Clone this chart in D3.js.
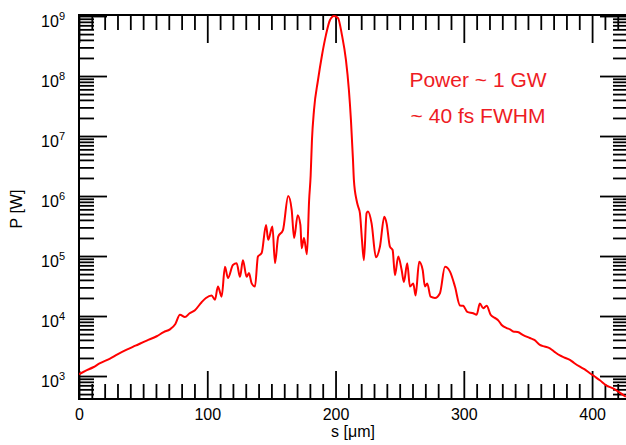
<!DOCTYPE html>
<html><head><meta charset="utf-8">
<script src="https://cdn.jsdelivr.net/npm/d3@7"></script>
<style>
html,body{margin:0;padding:0;background:#fff;}
text{font-family:"Liberation Sans",Arial,sans-serif;}
</style></head>
<body><svg id="c" width="626" height="445"></svg>
<script>
// s in micrometres
const sValues = [0,5,11.1,16,24.2,30,37.2,44,52.8,60.6,66,70.9,75,78.7,82.6,86,90.4,95.6,99.0,103.4,106.0,108.3,111.2,113.8,116.1,120.0,122.9,125.5,127.8,130.7,132.5,134.6,137.2,139.5,142.4,145.8,147.5,150.8,152.8,155.3,159.0,163.1,165.8,167.7,170.5,172.6,173.6,175.4,177.7,179.4,180.6,181.6,183.2,186.3,189.4,192.5,195.6,198.8,201.9,205.0,208.1,210.4,212.0,213.6,214.3,216.4,217.5,219.0,220.6,222.1,224.2,225.3,228.1,231.5,234.6,238.0,239.8,242.4,244.5,246.3,248.9,251.5,253.3,255.9,258.0,260.6,262.4,265.2,267.9,269.7,271.5,274.1,277.5,281.4,285.3,289.2,293.1,297.0,299.5,302.7,307.3,310.0,312.5,315.1,317.8,320.9,324.2,327,329.5,333.4,336,338.5,342,346.3,351.5,355,359.3,363,367.1,371,374.9,378,382.7,386,390.5,394,398.3,402,406.1,411,416.4,421,426.3];
// power in W
const powerValues = [1.07e3,1.22e3,1.4e3,1.62e3,1.95e3,2.3e3,2.75e3,3.2e3,3.9e3,4.6e3,5.4e3,6.0e3,7.3e3,1.05e4,9.6e3,1.1e4,1.25e4,1.7e4,2.0e4,2.2e4,1.86e4,3.1e4,2.1e4,6.6e4,4.3e4,7.1e4,7.6e4,4.5e4,8.5e4,4.5e4,5.2e4,3.5e4,3.1e4,9.8e4,1.12e5,3.3e5,1.86e5,3.1e5,7.6e4,2.1e5,2.7e5,1.0e6,5.9e5,2.0e5,4.8e5,3.3e5,1.35e5,2.0e5,1.07e5,8.5e5,2.2e6,8.5e6,2.7e7,8.5e7,2.2e8,4.8e8,8.5e8,1.0e9,9.3e8,4.8e8,1.86e8,5.9e7,1.86e7,4.0e6,1.86e6,8.5e5,6.8e5,5.2e5,1.86e5,8.5e4,5.2e5,5.5e5,3.5e5,9.5e4,1.43e5,4.5e5,3.5e5,1.43e5,1.26e5,4.8e4,9.8e4,5.9e4,3.7e4,7.6e4,3.1e4,3.5e4,2.2e4,8.0e4,5.9e4,3.1e4,3.5e4,2.1e4,2.0e4,2.4e4,6.6e4,5.5e4,3.1e4,1.5e4,1.48e4,1.17e4,1.11e4,1.05e4,1.62e4,1.35e4,1.48e4,1.05e4,9.3e3,8.4e3,7.1e3,6.3e3,6.0e3,5.5e3,5.4e3,4.8e3,4.3e3,4.0e3,3.3e3,3.1e3,2.9e3,2.5e3,2.2e3,2.05e3,1.86e3,1.65e3,1.43e3,1.3e3,1.11e3,9.8e2,8.5e2,7.0e2,6.2e2,5.4e2,4.5e2];
const xMajorTicks = [0,100,200,300,400];
const yMajorExponents = [3,4,5,6,7,8,9];
const xLabel = "s [\u03bcm]";
const yLabel = "P [W]";
const notes = ["Power ~ 1 GW", "~ 40 fs FWHM"];

const svg = d3.select("#c");
const L = 79, R = 628, T = 15, B = 399;
const x = d3.scaleLinear().domain([0, 428]).range([L, R]);
const y = d3.scaleLog().domain([Math.pow(10, 2.617), Math.pow(10, 9.017)]).range([B, T]);

const xMinor = d3.range(0, 430, 10).filter(v => v % 100 !== 0);
const yMajor = yMajorExponents.map(e => Math.pow(10, e));
const yMinor = [];
for (let e = 2; e <= 9; e++) for (let m = 2; m <= 9; m++) {
  const v = m * Math.pow(10, e);
  if (v >= y.domain()[0] && v <= y.domain()[1]) yMinor.push(v);
}

svg.append("defs").append("clipPath").attr("id", "clip")
  .append("rect").attr("x", L).attr("y", T).attr("width", R - L).attr("height", B - T);

function styleAxis(g) {
  g.select(".domain").remove();
  g.selectAll(".tick line").attr("stroke", "#000").attr("stroke-width", 1.8);
}
const MAJ = 28, MIN = 15;
// bottom
svg.append("g").attr("transform", `translate(0,${B})`)
  .call(d3.axisBottom(x).tickValues(xMinor).tickSize(-MIN).tickFormat("")).call(styleAxis);
svg.append("g").attr("transform", `translate(0,${B})`)
  .call(d3.axisBottom(x).tickValues(xMajorTicks).tickSize(-MAJ).tickFormat(d3.format("d")))
  .call(styleAxis)
  .call(g => g.selectAll(".tick text").attr("font-size", 16).attr("fill", "#000").attr("dy", "0").attr("y", 21));
// top
svg.append("g").attr("transform", `translate(0,${T})`)
  .call(d3.axisTop(x).tickValues(xMinor).tickSize(-MIN).tickFormat("")).call(styleAxis);
svg.append("g").attr("transform", `translate(0,${T})`)
  .call(d3.axisTop(x).tickValues(xMajorTicks).tickSize(-MAJ).tickFormat("")).call(styleAxis);
// left
svg.append("g").attr("transform", `translate(${L},0)`)
  .call(d3.axisLeft(y).tickValues(yMinor).tickSize(-MIN).tickFormat("")).call(styleAxis);
const ly = svg.append("g").attr("transform", `translate(${L},0)`)
  .call(d3.axisLeft(y).tickValues(yMajor).tickSize(-MAJ).tickFormat("")).call(styleAxis);
ly.selectAll(".tick").each(function(d) {
  const t = d3.select(this).append("text").attr("x", -14).attr("y", 10)
    .attr("text-anchor", "end").attr("fill", "#000").attr("font-size", 16);
  t.append("tspan").text("10");
  t.append("tspan").attr("font-size", 11).attr("dy", -7).text(Math.round(Math.log10(d)));
});
// right
svg.append("g").attr("transform", `translate(${R},0)`)
  .call(d3.axisRight(y).tickValues(yMinor).tickSize(-MIN).tickFormat("")).call(styleAxis);
svg.append("g").attr("transform", `translate(${R},0)`)
  .call(d3.axisRight(y).tickValues(yMajor).tickSize(-MAJ).tickFormat("")).call(styleAxis);

// frame
svg.append("rect").attr("x", L).attr("y", T).attr("width", R - L).attr("height", B - T)
  .attr("fill", "none").attr("stroke", "#000").attr("stroke-width", 2);

// curve
const data = sValues.map((s, i) => [s, powerValues[i]]);
svg.append("path").datum(data).attr("clip-path", "url(#clip)")
  .attr("fill", "none").attr("stroke", "#f00").attr("stroke-width", 2)
  .attr("stroke-linejoin", "round")
  .attr("d", d3.line().x(d => x(d[0])).y(d => y(d[1])).curve(d3.curveMonotoneX));

// labels
svg.append("text").attr("x", 353).attr("y", 437).attr("text-anchor", "middle")
  .attr("font-size", 16).attr("fill", "#000").text(xLabel);
svg.append("text").attr("transform", "translate(22,209) rotate(-90)").attr("text-anchor", "middle")
  .attr("font-size", 16).attr("fill", "#000").text(yLabel);

svg.selectAll("text.note").data(notes).enter().append("text").attr("class", "note")
  .attr("x", 478).attr("y", (d, i) => 87 + i * 36).attr("text-anchor", "middle")
  .attr("font-size", 21).attr("fill", "#ee1c24").text(d => d);
</script></body></html>
